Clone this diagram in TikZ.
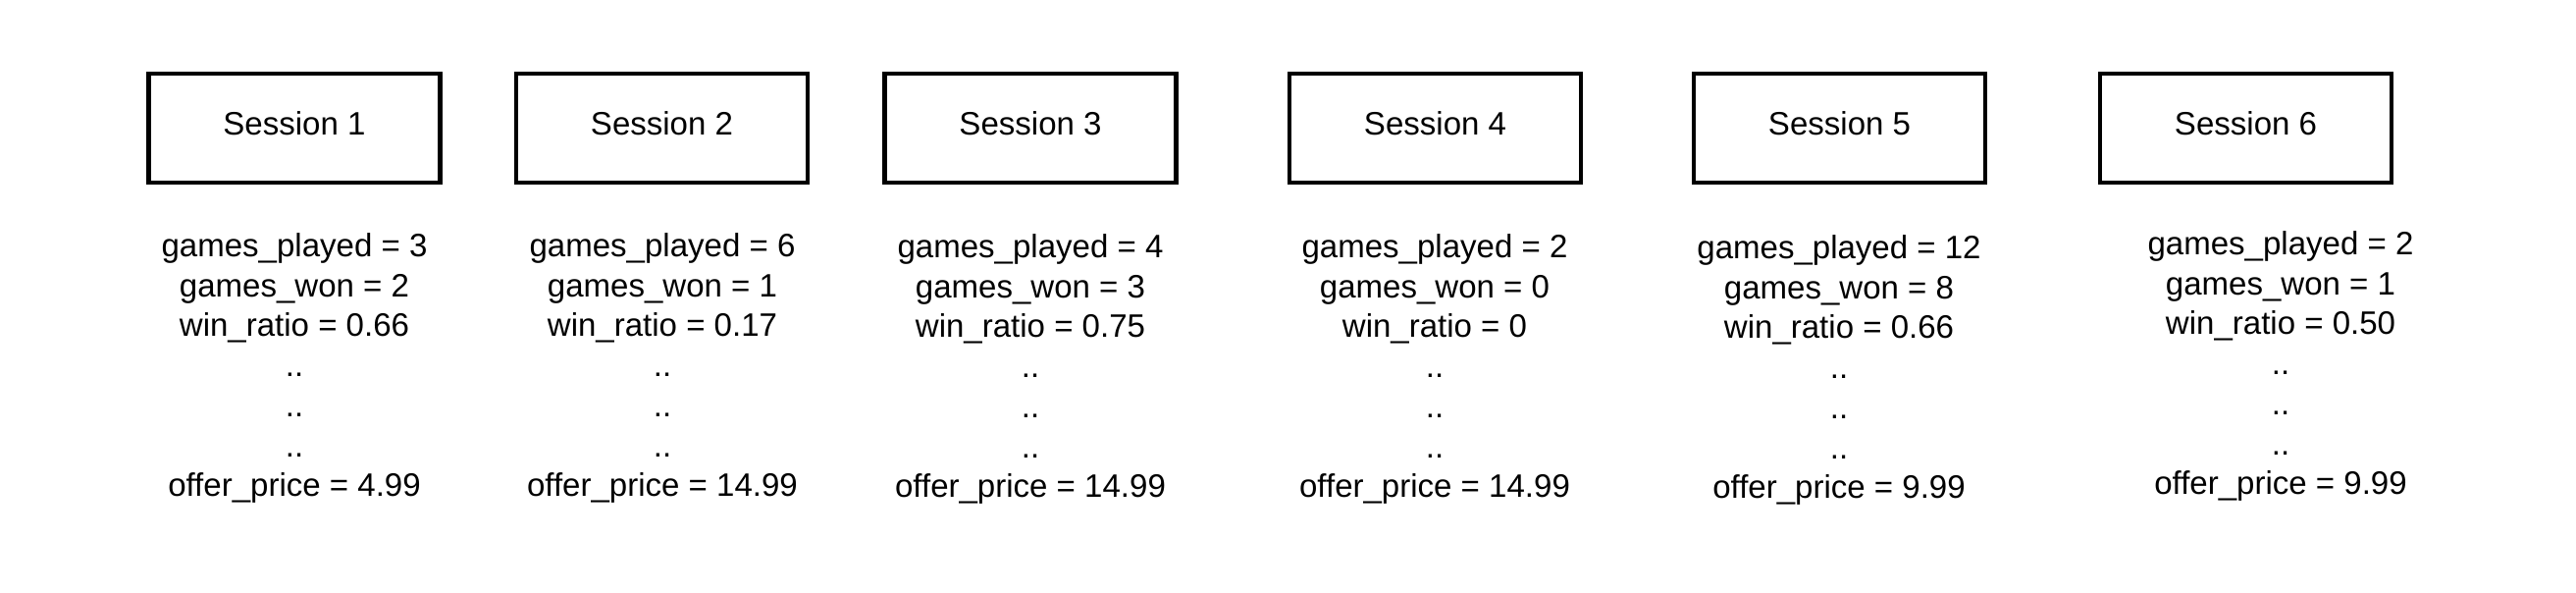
\documentclass[tikz,border=0pt]{standalone}
\usepackage{fontspec}
\setmainfont{Liberation Sans}
\tikzset{
  sessionbox/.style={draw, line width=1.3pt, minimum width=2.97cm, minimum height=1.11cm, inner sep=0pt, text depth=0.1cm},
  statstext/.style={align=center, inner sep=0pt},
}
\begin{document}
\begin{tikzpicture}[font=\fontsize{9.4}{11.6}\selectfont]
\useasboundingbox (0,0) rectangle (26.25,-6.04);

% Draw the session boxes
\foreach \i/\x in {1/3.00, 2/6.745, 3/10.50, 4/14.625, 5/18.745, 6/22.885}
  \node[sessionbox] (S\i) at (\x,-1.305) {Session \i};

% Draw the values of each session
\foreach \i/\x/\y/\played/\won/\ratio/\price in {
    1/3.00/-3.75/3/2/0.66/4.99,
    2/6.75/-3.75/6/1/0.17/14.99,
    3/10.50/-3.76/4/3/0.75/14.99,
    4/14.62/-3.76/2/0/0/14.99,
    5/18.74/-3.77/12/8/0.66/9.99,
    6/23.24/-3.73/2/1/0.50/9.99}
  \node[statstext] (S\i-stats) at (\x,\y)
    {games\_played = \played\\ games\_won = \won\\ win\_ratio = \ratio\\ ..\\ ..\\ ..\\ offer\_price = \price};
\end{tikzpicture}
\end{document}
